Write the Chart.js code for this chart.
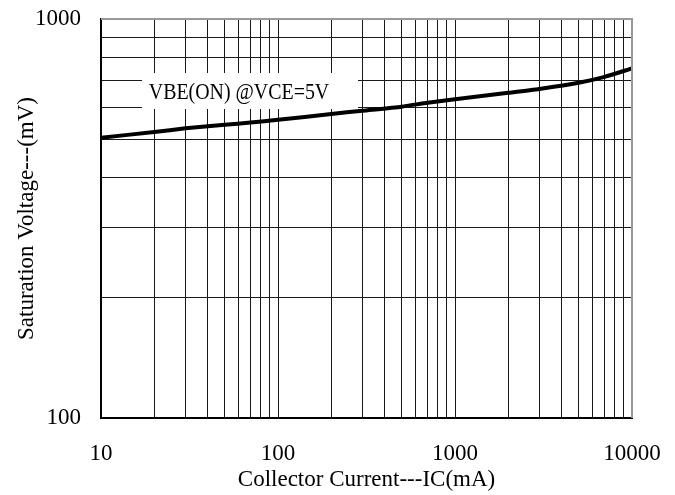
<!DOCTYPE html>
<html>
<head>
<meta charset="utf-8">
<script src="https://cdn.jsdelivr.net/npm/chart.js@4.4.0/dist/chart.umd.min.js"></script>
<style>
  html, body { margin: 0; padding: 0; background: #fff; }
  #wrap { width: 675px; height: 495px; position: relative; }
</style>
</head>
<body>
<div id="wrap"><canvas id="c"></canvas></div>
<script>
// --- data ---
const currentMA = [10, 20, 30, 50, 70, 100, 200, 300, 500, 700, 1000, 2000, 3000, 5000, 7000, 10000];
const vbeOnMV   = [504, 521, 532, 543, 550, 559, 578, 589, 603, 617, 629, 653, 668, 692, 716, 752];

const xTicks = [10,20,30,40,50,60,70,80,90,100,200,300,400,500,600,700,800,900,1000,2000,3000,4000,5000,6000,7000,8000,9000,10000];
const yTicks = [100,200,300,400,500,600,700,800,900,1000];
const xLabels = [10, 100, 1000, 10000];
const yLabels = [100, 1000];

const seriesLabel = 'VBE(ON) @VCE=5V';
const FONT = "'Liberation Serif', 'DejaVu Serif', serif";

// label paddings would shrink the plot; the frame is fixed here
const noPad = (s) => { s.paddingTop = s.paddingBottom = s.paddingLeft = s.paddingRight = 0; };

// white box + label, plus grey top/right frame
const annotate = {
  id: 'annotate',
  afterDatasetsDraw(chart) {
    const { ctx, chartArea: a } = chart;
    ctx.save();
    ctx.fillStyle = '#fff';
    ctx.fillRect(a.left + 41, a.top + 54, 216, 36);
    ctx.fillStyle = '#000';
    ctx.font = '23px ' + FONT;
    ctx.textAlign = 'center';
    ctx.textBaseline = 'middle';
    ctx.translate(a.left + 138, a.top + 74);
    ctx.scale(0.865, 1);
    ctx.fillText(seriesLabel, 0, 0);
    ctx.restore();

    ctx.save();
    ctx.strokeStyle = '#999';
    ctx.lineWidth = 2;
    ctx.beginPath();
    ctx.moveTo(a.left, a.top);
    ctx.lineTo(a.right, a.top);
    ctx.lineTo(a.right, a.bottom);
    ctx.stroke();
    ctx.restore();
  }
};

new Chart(document.getElementById('c'), {
  type: 'line',
  data: {
    datasets: [{
      label: seriesLabel,
      data: currentMA.map((x, i) => ({ x, y: vbeOnMV[i] })),
      borderColor: '#000',
      borderWidth: 4,
      pointRadius: 0,
      tension: 0.2,
      fill: false,
    }],
  },
  options: {
    responsive: true,
    maintainAspectRatio: false,
    animation: false,
    layout: { autoPadding: false, padding: { top: 19, right: 43, left: 0, bottom: 0 } },
    plugins: { legend: { display: false }, tooltip: { enabled: false } },
    scales: {
      x: {
        type: 'logarithmic', min: 10, max: 10000,
        afterBuildTicks: (s) => { s.ticks = xTicks.map(v => ({ value: v })); },
        afterFit: (s) => { s.height = 77; noPad(s); },
        ticks: {
          autoSkip: false, maxRotation: 0, padding: 22, color: '#000',
          font: { family: FONT, size: 23 },
          callback: (v) => xLabels.includes(v) ? String(v) : '',
        },
        grid: { color: '#1a1a1a', lineWidth: 1, drawTicks: false },
        border: { color: '#000', width: 2 },
        title: {
          display: true, text: 'Collector Current---IC(mA)', color: '#000',
          font: { family: FONT, size: 23 }, padding: { top: 0, bottom: 1 },
        },
      },
      y: {
        type: 'logarithmic', min: 100, max: 1000,
        afterBuildTicks: (s) => { s.ticks = yTicks.map(v => ({ value: v })); },
        afterFit: (s) => { s.width = 101; noPad(s); },
        ticks: {
          autoSkip: false, padding: 20, color: '#000',
          font: { family: FONT, size: 23 },
          callback: (v) => yLabels.includes(v) ? String(v) : '',
        },
        grid: { color: '#1a1a1a', lineWidth: 1, drawTicks: false },
        border: { color: '#000', width: 2 },
        title: {
          display: true, text: 'Saturation Voltage---(mV)', color: '#000',
          font: { family: FONT, size: 23 }, padding: { top: 13, bottom: 0 },
        },
      },
    },
  },
  plugins: [annotate],
});
</script>
</body>
</html>
